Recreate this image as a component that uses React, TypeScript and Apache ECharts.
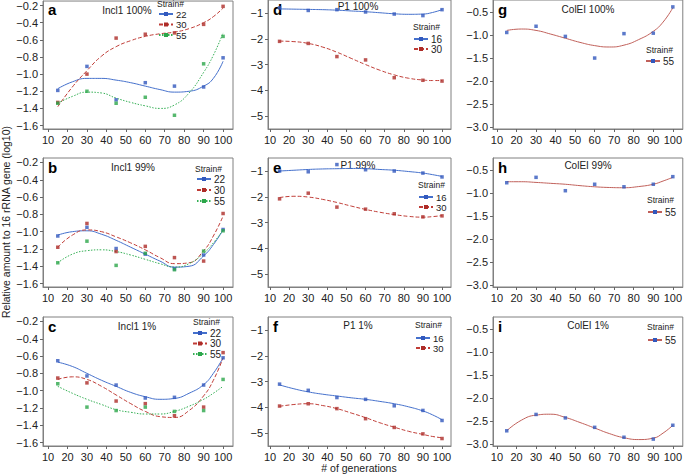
import React, { useEffect, useRef } from "react";
import * as echarts from "echarts";

// ---------- data ----------
const generations = [15, 30, 45, 60, 75, 90, 100];
const fitX = [15, 22.5, 30, 37.5, 45, 52.5, 60, 67.5, 75, 82.5, 90, 95, 100];
const xTicks = [10, 20, 30, 40, 50, 60, 70, 80, 90, 100];
const inclTicks = [-1.6, -1.4, -1.2, -1.0, -0.8, -0.6, -0.4, -0.2];
const p1Ticks = [-5, -4, -3, -2, -1];
const colTicks = [-3.0, -2.5, -2.0, -1.5, -1.0, -0.5];

// Incl1 100%
const a22 = [-1.19, -0.91, -1.3, -1.1, -1.14, -1.15, -0.81];
const a30 = [-1.33, -1.0, -0.58, -0.535, -0.52, -0.42, -0.21];
const a55 = [-1.34, -1.2, -1.34, -1.27, -1.48, -0.88, -0.56];
const a22Fit = [-1.17, -1.09, -1.05, -1.05, -1.07, -1.1, -1.14, -1.18, -1.21, -1.2, -1.14, -1.05, -0.85];
const a30Fit = [-1.38, -1.15, -0.96, -0.79, -0.68, -0.61, -0.56, -0.53, -0.51, -0.47, -0.4, -0.33, -0.23];
const a55Fit = [-1.34, -1.26, -1.21, -1.22, -1.28, -1.33, -1.37, -1.4, -1.36, -1.22, -0.98, -0.78, -0.52];
// Incl1 99%
const b22 = [-1.05, -0.95, -1.195, -1.26, -1.43, -1.27, -0.975];
const b30 = [-1.18, -0.905, -1.23, -1.17, -1.3, -1.34, -0.79];
const b55 = [-1.36, -1.11, -1.39, -1.25, -1.44, -1.225, -0.99];
const b22Fit = [-1.04, -1.0, -0.99, -1.03, -1.1, -1.18, -1.26, -1.34, -1.41, -1.4, -1.28, -1.15, -0.98];
const b30Fit = [-1.18, -1.04, -0.98, -1.0, -1.06, -1.13, -1.21, -1.3, -1.37, -1.36, -1.22, -1.05, -0.82];
const b55Fit = [-1.36, -1.26, -1.22, -1.21, -1.23, -1.27, -1.32, -1.37, -1.41, -1.37, -1.25, -1.13, -0.98];
// Incl1 1%
const c22 = [-0.654, -0.83, -0.935, -1.085, -1.077, -0.935, -0.62];
const c30 = [-0.854, -0.91, -1.12, -1.15, -1.29, -1.19, -0.56];
const c55 = [-0.92, -1.19, -1.23, -1.19, -1.24, -1.23, -0.87];
const c22Fit = [-0.67, -0.72, -0.8, -0.88, -0.95, -1.02, -1.07, -1.1, -1.09, -1.03, -0.93, -0.8, -0.62];
const c30Fit = [-0.87, -0.84, -0.87, -0.95, -1.05, -1.15, -1.24, -1.3, -1.31, -1.23, -1.06, -0.88, -0.62];
const c55Fit = [-0.95, -1.03, -1.1, -1.16, -1.22, -1.25, -1.27, -1.27, -1.24, -1.18, -1.1, -1.03, -0.95];
// P1 100%
const d16 = [-0.8, -0.9, -0.87, -0.96, -1.04, -1.1, -0.87];
const d30 = [-2.1, -2.18, -2.69, -2.82, -3.51, -3.61, -3.64];
const d16Fit = [-0.84, -0.85, -0.86, -0.87, -0.89, -0.92, -0.95, -0.99, -1.03, -1.05, -1.04, -0.98, -0.87];
const d30Fit = [-2.09, -2.11, -2.18, -2.32, -2.52, -2.76, -3.0, -3.22, -3.4, -3.53, -3.6, -3.62, -3.62];
// P1 99%
const e16 = [-1.0, -1.03, -0.75, -0.95, -1.0, -1.08, -1.23];
const e30 = [-2.08, -1.86, -2.4, -2.48, -2.66, -2.78, -2.74];
const e16Fit = [-1.0, -0.97, -0.94, -0.92, -0.91, -0.9, -0.91, -0.94, -0.97, -1.02, -1.08, -1.14, -1.21];
const e30Fit = [-2.03, -1.98, -2.01, -2.1, -2.22, -2.36, -2.49, -2.6, -2.69, -2.76, -2.79, -2.77, -2.73];
// P1 1%
const f16 = [-3.1, -3.34, -3.62, -3.69, -3.94, -4.12, -4.51];
const f30 = [-3.95, -3.86, -4.05, -4.44, -4.78, -5.03, -5.21];
const f16Fit = [-3.13, -3.28, -3.4, -3.49, -3.56, -3.63, -3.69, -3.77, -3.86, -3.98, -4.14, -4.29, -4.48];
const f30Fit = [-3.96, -3.89, -3.86, -3.93, -4.05, -4.22, -4.4, -4.6, -4.77, -4.93, -5.05, -5.13, -5.18];
// ColEI
const g55 = [-0.945, -0.81, -1.03, -1.5, -0.97, -0.96, -0.39];
const g55Fit = [-0.9, -0.87, -0.9, -0.98, -1.07, -1.16, -1.23, -1.26, -1.22, -1.1, -0.92, -0.72, -0.41];
const h55 = [-0.777, -0.66, -0.95, -0.81, -0.865, -0.81, -0.645];
const h55Fit = [-0.755, -0.755, -0.77, -0.79, -0.81, -0.84, -0.865, -0.88, -0.885, -0.86, -0.81, -0.74, -0.66];
const i55 = [-2.71, -2.355, -2.43, -2.635, -2.85, -2.89, -2.59];
const i55Fit = [-2.71, -2.48, -2.37, -2.35, -2.42, -2.53, -2.65, -2.77, -2.86, -2.9, -2.87, -2.76, -2.59];

// ---------- layout / style ----------
const FONT = "'Liberation Sans', Arial, Helvetica, sans-serif";
const BLUE = "#3258bd";
const RED = "#ad2c28";
const GREEN = "#2ca64a";
const COL_LINE = "#c0605a";

type Strain = { name: string; pts: number[]; fit: number[] };
type Panel = {
  letter: string;
  title: string;
  kind: "incl" | "p1" | "col";
  col: number;
  row: number;
  tx: number;
  ty: number;
  strains: Strain[];
  legend: { left: number; top: number; gap: number; lh: number; fs: number; sx: number; sy: number };
};

const panels: Panel[] = [
  { letter: "a", title: "Incl1 100%", kind: "incl", col: 0, row: 0, tx: 127, ty: 10,
    strains: [{ name: "22", pts: a22, fit: a22Fit }, { name: "30", pts: a30, fit: a30Fit }, { name: "55", pts: a55, fit: a55Fit }],
    legend: { left: 158, top: 9, gap: 0.5, lh: 7, fs: 9.5, sx: 157, sy: 4 } },
  { letter: "b", title: "Incl1 99%", kind: "incl", col: 0, row: 1, tx: 133, ty: 167,
    strains: [{ name: "22", pts: b22, fit: b22Fit }, { name: "30", pts: b30, fit: b30Fit }, { name: "55", pts: b55, fit: b55Fit }],
    legend: { left: 196, top: 174, gap: 1, lh: 10, fs: 10, sx: 195, sy: 169 } },
  { letter: "c", title: "Incl1 1%", kind: "incl", col: 0, row: 2, tx: 137, ty: 326,
    strains: [{ name: "22", pts: c22, fit: c22Fit }, { name: "30", pts: c30, fit: c30Fit }, { name: "55", pts: c55, fit: c55Fit }],
    legend: { left: 192, top: 328, gap: 0.5, lh: 10, fs: 10, sx: 193, sy: 322 } },
  { letter: "d", title: "P1 100%", kind: "p1", col: 1, row: 0, tx: 358, ty: 6,
    strains: [{ name: "16", pts: d16, fit: d16Fit }, { name: "30", pts: d30, fit: d30Fit }],
    legend: { left: 413, top: 34, gap: 0, lh: 9, fs: 10, sx: 413, sy: 27 } },
  { letter: "e", title: "P1 99%", kind: "p1", col: 1, row: 1, tx: 358, ty: 165,
    strains: [{ name: "16", pts: e16, fit: e16Fit }, { name: "30", pts: e30, fit: e30Fit }],
    legend: { left: 418, top: 192, gap: 0, lh: 8, fs: 9.5, sx: 418, sy: 185 } },
  { letter: "f", title: "P1 1%", kind: "p1", col: 1, row: 2, tx: 358, ty: 325,
    strains: [{ name: "16", pts: f16, fit: f16Fit }, { name: "30", pts: f30, fit: f30Fit }],
    legend: { left: 415, top: 333, gap: 0, lh: 7.5, fs: 9.5, sx: 415, sy: 325 } },
  { letter: "g", title: "ColEI 100%", kind: "col", col: 2, row: 0, tx: 588, ty: 9,
    strains: [{ name: "55", pts: g55, fit: g55Fit }],
    legend: { left: 645, top: 56, gap: 0, lh: 10, fs: 10, sx: 646, sy: 50 } },
  { letter: "h", title: "ColEI 99%", kind: "col", col: 2, row: 1, tx: 588, ty: 165,
    strains: [{ name: "55", pts: h55, fit: h55Fit }],
    legend: { left: 647, top: 207, gap: 0, lh: 10, fs: 10, sx: 647, sy: 200 } },
  { letter: "i", title: "ColEI 1%", kind: "col", col: 2, row: 2, tx: 588, ty: 325,
    strains: [{ name: "55", pts: i55, fit: i55Fit }],
    legend: { left: 647, top: 335, gap: 0, lh: 10, fs: 10, sx: 647, sy: 327 } },
];

const colLeft = [43, 268, 493];
const colWidth = [190, 183, 191];
const rowTop = [0, 158, 317];
const rowH = 129;
const xRange = [
  { min: 7.4, max: 105.1 },
  { min: 8.95, max: 104.7 },
  { min: 7.97, max: 105.1 },
];
const yRange = {
  incl: { min: -1.64, max: -0.148, ticks: inclTicks, digits: 1 },
  p1: { min: -5.5, max: -0.495, ticks: p1Ticks, digits: 0 },
  col: { min: -3.04, max: -0.24, ticks: colTicks, digits: 1 },
};

function strainStyle(kind: string, idx: number) {
  if (kind === "col") return { line: COL_LINE, point: BLUE, type: "solid" as any };
  if (idx === 0) return { line: "#4470cc", point: BLUE, type: "solid" as any };
  if (idx === 1) return { line: "#c03c36", point: RED, type: [4, 2] as any };
  return { line: "#35b055", point: GREEN, type: [1.5, 1.5] as any };
}

const fmt = (d: number) => (v: number) => (v < 0 ? "\u2212" : "") + Math.abs(v).toFixed(d);

function buildOption() {
  const grid: any[] = [];
  const xAxis: any[] = [];
  const yAxis: any[] = [];
  const series: any[] = [];
  const legend: any[] = [];
  const graphic: any[] = [];

  panels.forEach((p, gi) => {
    const left = colLeft[p.col];
    const top = rowTop[p.row];
    const width = colWidth[p.col];
    grid.push({ left, top, width, height: rowH, show: true, borderColor: "#808080", borderWidth: 1, backgroundColor: "transparent" });
    const xr = xRange[p.col];
    xAxis.push({
      gridIndex: gi, type: "value", min: xr.min, max: xr.max,
      axisLine: { show: true, onZero: false, lineStyle: { color: "#808080", width: 1 } },
      splitLine: { show: false },
      axisTick: { show: true, length: 3, customValues: xTicks, lineStyle: { color: "#666" } },
      axisLabel: { customValues: xTicks, fontSize: 11, color: "#222", margin: 5, fontFamily: FONT },
    });
    const yr = yRange[p.kind];
    yAxis.push({
      gridIndex: gi, type: "value", min: yr.min, max: yr.max,
      axisLine: { show: true, onZero: false, lineStyle: { color: "#808080", width: 1 } },
      splitLine: { show: false },
      axisTick: { show: true, length: 3, customValues: yr.ticks, lineStyle: { color: "#666" } },
      axisLabel: { customValues: yr.ticks, fontSize: 11, color: "#222", margin: 5, fontFamily: FONT, formatter: fmt(yr.digits) },
    });

    const legendNames: string[] = [];
    p.strains.forEach((s, si) => {
      const st = strainStyle(p.kind, si);
      const nm = p.letter + ":" + s.name;
      legendNames.push(nm);
      series.push({
        name: nm, type: "line", xAxisIndex: gi, yAxisIndex: gi,
        data: fitX.map((x, k) => [x, s.fit[k]]),
        smooth: 0.5, showSymbol: false, symbol: "rect", symbolSize: 4,
        lineStyle: { color: st.line, width: 1, type: st.type },
        itemStyle: { color: st.point },
        z: 2, silent: true,
      });
      series.push({
        name: nm + "-pts", type: "scatter", xAxisIndex: gi, yAxisIndex: gi,
        data: generations.map((x, k) => [x, s.pts[k]]),
        symbol: "rect", symbolSize: 3.5,
        itemStyle: { color: st.point },
        z: 3, silent: true,
      });
    });

    legend.push({
      data: legendNames, orient: "vertical", left: p.legend.left, top: p.legend.top,
      itemWidth: 14, itemHeight: 5, itemGap: p.legend.gap, padding: 0,
      selectedMode: false,
      formatter: (n: string) => n.split(":")[1],
      textStyle: { fontSize: p.legend.fs, color: "#222", fontFamily: FONT, lineHeight: p.legend.lh, padding: [0, 0, 0, -2] },
    });

    graphic.push({
      type: "text", x: left + 5, y: top + 9,
      style: { text: p.letter, font: "bold 15px " + FONT, fill: "#000", textVerticalAlign: "middle" },
    });
    graphic.push({
      type: "text", x: p.tx, y: p.ty,
      style: { text: p.title, font: "10px " + FONT, fill: "#222", textAlign: "center", textVerticalAlign: "middle" },
    });
    graphic.push({
      type: "text", x: p.legend.sx, y: p.legend.sy,
      style: { text: "Strain#", font: "8.5px " + FONT, fill: "#222", textVerticalAlign: "middle" },
    });
  });

  graphic.push({
    type: "text", x: 6, y: 222, rotation: Math.PI / 2,
    style: { text: "Relative amount to 16 rRNA gene (log10)", font: "10.5px " + FONT, fill: "#222", textAlign: "center", textVerticalAlign: "middle" },
  });
  graphic.push({
    type: "text", x: 359, y: 468,
    style: { text: "# of generations", font: "10.5px " + FONT, fill: "#222", textAlign: "center", textVerticalAlign: "middle" },
  });

  return { animation: false, backgroundColor: "#fff", grid, xAxis, yAxis, series, legend, graphic };
}

export default function App() {
  const ref = useRef<HTMLDivElement>(null);
  useEffect(() => {
    if (!ref.current) return;
    const chart = echarts.init(ref.current, undefined, { renderer: "svg" });
    chart.setOption(buildOption() as any);
    return () => chart.dispose();
  }, []);
  return <div ref={ref} style={{ position: "fixed", left: 0, top: 0, width: 685, height: 475 }} />;
}
